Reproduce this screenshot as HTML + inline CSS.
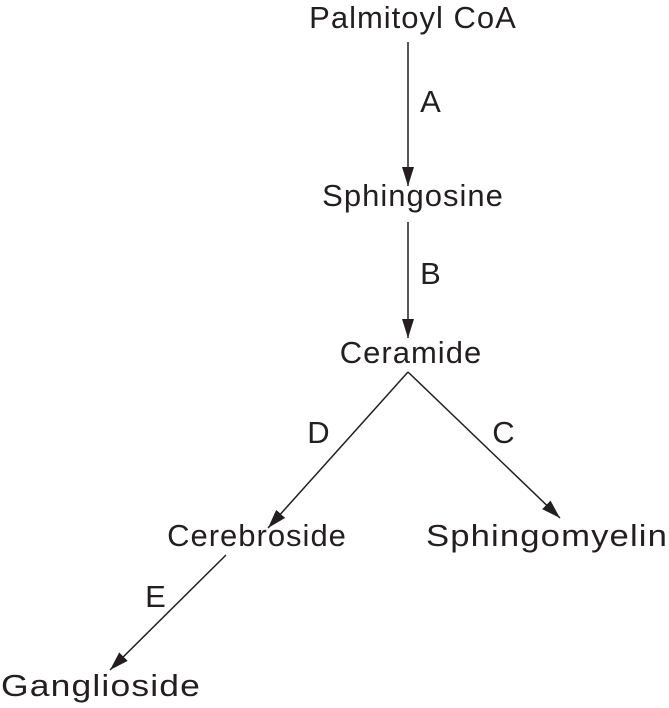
<!DOCTYPE html>
<html><head><meta charset="utf-8"><style>
html,body{margin:0;padding:0;background:#fff;}
svg text{font-family:"Liberation Sans",Arial,sans-serif;font-size:31px;letter-spacing:1px;fill:#231f20;}
</style></head><body>
<svg width="669" height="703" viewBox="0 0 669 703" xmlns="http://www.w3.org/2000/svg">
<defs>
<marker id="b" markerWidth="20" markerHeight="12" refX="19" refY="6" orient="auto" markerUnits="userSpaceOnUse">
<path d="M0,0 L19,6 L0,12 Z" fill="#231f20"/></marker></defs>
<g stroke="#231f20" stroke-width="1.5" fill="none">
<line x1="408" y1="42" x2="408" y2="186" marker-end="url(#b)"/>
<line x1="408" y1="222" x2="408" y2="338" marker-end="url(#b)"/>
<line x1="408" y1="372" x2="268" y2="528" marker-end="url(#b)"/>
<line x1="408" y1="372" x2="560" y2="518" marker-end="url(#b)"/>
<line x1="226" y1="555" x2="110" y2="670" marker-end="url(#b)"/>
</g>
<text x="413" y="28" text-anchor="middle">Palmitoyl CoA</text>
<text x="431" y="112" text-anchor="middle">A</text>
<text x="413" y="206" text-anchor="middle">Sphingosine</text>
<text x="431" y="284" text-anchor="middle">B</text>
<text x="411" y="363" text-anchor="middle">Ceramide</text>
<text x="319" y="443" text-anchor="middle">D</text>
<text x="504" y="443" text-anchor="middle">C</text>
<text x="257" y="546" text-anchor="middle">Cerebroside</text>
<text x="426" y="546" textLength="242" lengthAdjust="spacingAndGlyphs">Sphingomyelin</text>
<text x="156" y="607" text-anchor="middle">E</text>
<text x="1" y="696" textLength="200" lengthAdjust="spacingAndGlyphs">Ganglioside</text>
</svg>
</body></html>
